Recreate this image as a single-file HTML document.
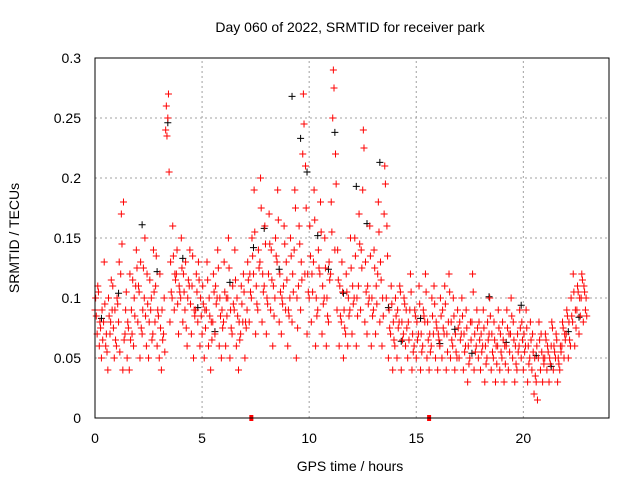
<!DOCTYPE html>
<html><head><meta charset="utf-8"><style>
body{margin:0;background:#fff}
svg{display:block;font-family:"Liberation Sans",sans-serif}
</style></head><body>
<svg id="chart" width="640" height="480" viewBox="0 0 640 480">
<text x="350" y="32" font-size="14" text-anchor="middle">Day 060 of 2022, SRMTID for receiver park</text>
<text transform="translate(19,238) rotate(-90)" font-size="14" text-anchor="middle">SRMTID / TECUs</text>
<text x="350" y="471" font-size="14" text-anchor="middle">GPS time / hours</text>
<g id="grid"></g><g id="ticks"></g><g id="black"></g><g id="red"></g>
<rect x="95" y="58" width="514" height="360" fill="none" stroke="#000" stroke-width="1"/>
</svg>
<script>
const xTicks=[0,5,10,15,20];
const yTicks=[0,0.05,0.1,0.15,0.2,0.25,0.3];
const yTickLabels=["0","0.05","0.1","0.15","0.2","0.25","0.3"];
const redA=[.09,.07,.06,.05,.08,.06,.04,.07,.09,.05,.06,.08,.12,.04,.07,.05,.04,.09,.06,.11,.08,.05,.07,.10,.06,.05,.09,.07,.08,.06,.05,.04,.07,.24,.25,.08,.10,.09,.12,.07,.10,.08,.09,.06,.11,.07,.05,.09,.08,.06,.07,.05,.09,.06,.04,.08,.07,.10,.06,.05,.08,.06,.10,.05,.07,.09,.06,.04,.07,.08,.05,.09,.08,.10,.12,.07,.09,.13,.08,.11,.07,.12,.09,.06,.10,.13,.08,.07,.11,.09,.06,.10,.08,.14,.05,.11,.09,.22,.12,.07,.10,.08,.13,.06,.09,.12,.07,.10,.06,.08,.12,.25,.14,.09,.06,.08,.05,.07,.06,.09,.07,.10,.06,.11,.09,.19,.08,.07,.10,.06,.09,.07,.12,.08,.06,.17,.10,.05,.07,.04,.06,.05,.08,.04,.07,.06,.05,.09,.04,.06,.05,.07,.04,.06,.08,.05,.04,.06,.07,.05,.04,.06,.05,.07,.04,.08,.05,.06,.04,.05,.05,.07,.04,.06,.03,.05,.08,.04,.06,.05,.04,.06,.03,.05,.07,.04,.05,.03,.06,.04,.05,.03,.06,.04,.07,.05,.03,.04,.06,.05,.04,.06,.03,.05,.04,.02,.03,.05,.04,.03,.05,.04,.03,.06,.04,.05,.03,.04,.06,.05,.07,.05,.06,.08,.06,.09,.07,.10,.08,.09];
const redB=[.10,.11,.08,.09,.13,.07,.10,.08,.11,.09,.10,.13,.17,.18,.09,.08,.12,.07,.10,.14,.11,.13,.09,.15,.12,.08,.10,.14,.11,.09,.12,.09,.10,.26,.27,.13,.16,.12,.14,.11,.15,.12,.13,.10,.14,.11,.09,.12,.13,.10,.11,.09,.13,.10,.08,.12,.11,.14,.10,.09,.13,.10,.15,.09,.11,.14,.10,.08,.11,.12,.08,.13,.12,.15,.19,.11,.14,.20,.12,.16,.10,.17,.14,.11,.15,.19,.12,.10,.16,.13,.09,.15,.12,.19,.10,.16,.13,.27,.21,.12,.16,.12,.19,.10,.14,.18,.11,.15,.10,.13,.18,.29,.22,.14,.11,.13,.09,.12,.10,.15,.11,.15,.10,.17,.14,.24,.13,.11,.16,.10,.14,.11,.18,.13,.10,.21,.16,.09,.11,.08,.10,.09,.11,.08,.10,.09,.08,.12,.07,.09,.08,.11,.07,.09,.12,.08,.07,.10,.11,.08,.07,.10,.09,.11,.07,.12,.08,.10,.07,.09,.08,.10,.07,.09,.06,.08,.12,.07,.09,.08,.07,.09,.06,.08,.10,.07,.08,.06,.09,.07,.08,.06,.09,.07,.10,.08,.06,.07,.09,.08,.07,.09,.06,.08,.07,.05,.06,.08,.07,.05,.07,.06,.05,.08,.06,.07,.05,.06,.08,.07,.09,.08,.10,.12,.09,.11,.10,.12,.11,.10];
const redC=[.085,.105,.075,.065,.095,.055,.085,.115,.075,.065,.095,.055,.145,.065,.105,.075,.065,.115,.085,.125,.105,.075,.125,.085,.095,.115,.065,.105,.135,.085,.075,.065,.055,.235,.205,.105,.135,.115,.095,.105,.125,.105,.075,.115,.095,.135,.085,.105,.115,.085,.095,.075,.115,.085,.065,.105,.095,.125,.085,.075,.105,.085,.125,.075,.095,.115,.085,.065,.095,.105,.075,.115,.105,.135,.155,.095,.125,.175,.105,.145,.095,.145,.115,.085,.135,.165,.105,.095,.145,.115,.085,.135,.105,.175,.075,.145,.115,.245,.175,.105,.135,.105,.165,.085,.125,.155,.095,.125,.085,.115,.155,.275,.195,.115,.085,.105,.075,.105,.085,.125,.095,.135,.085,.145,.125,.225,.105,.095,.135,.085,.125,.095,.155,.115,.085,.195,.135,.075,.095,.065,.085,.075,.105,.065,.095,.075,.065,.105,.055,.085,.065,.095,.055,.085,.105,.065,.055,.085,.095,.075,.065,.085,.075,.095,.055,.105,.065,.085,.055,.075,.065,.085,.055,.075,.045,.065,.105,.055,.075,.065,.055,.075,.045,.065,.085,.055,.065,.045,.075,.055,.065,.045,.075,.055,.085,.065,.045,.055,.075,.065,.055,.075,.045,.065,.055,.035,.015,.065,.055,.045,.065,.055,.045,.075,.055,.065,.045,.055,.075,.065,.085,.065,.085,.105,.075,.105,.085,.115,.105,.085];
const blackT=[0.3,1.1,2.2,2.9,3.4,4.1,4.8,5.6,6.3,7.4,7.9,8.6,9.2,9.6,9.9,10.4,10.9,11.2,11.6,12.2,12.7,13.3,13.7,14.3,15.2,16.1,16.8,17.6,18.4,19.2,19.9,20.6,21.3,22.1,22.6];
const blackV=[.083,.104,.161,.122,.246,.133,.092,.072,.113,.142,.158,.124,.268,.233,.205,.152,.124,.238,.104,.193,.162,.213,.092,.064,.083,.062,.074,.054,.101,.063,.094,.052,.043,.072,.084];
const flagT=[7.3,15.6];
const X0=95,X1=609,XMAX=24,Y0=418,Y1=58,YMAX=0.3;
const xs=h=>X0+(X1-X0)*h/XMAX, ys=v=>Y0-(Y0-Y1)*v/YMAX;
const NS="http://www.w3.org/2000/svg";
function mk(tag,attrs,parent){const e=document.createElementNS(NS,tag);for(const k in attrs)e.setAttribute(k,attrs[k]);parent.appendChild(e);return e;}
const grid=document.getElementById('grid'),ticks=document.getElementById('ticks');
xTicks.forEach(t=>{
 const x=xs(t);
 if(t>0){const g=mk('line',{x1:x,x2:x,y1:Y0,y2:Y1,stroke:'#a0a0a0','stroke-dasharray':'2,3'},grid);
 
 }
 const l=mk('text',{x:x,y:Y0+25,'font-size':14,'text-anchor':'middle'},ticks);l.textContent=t;
 
 
});
yTicks.forEach((t,i)=>{
 const y=ys(t);
 if(t>0){const g=mk('line',{x1:X0,x2:X1,y1:y,y2:y,stroke:'#a0a0a0','stroke-dasharray':'2,3'},grid);
 
 }
 const l=mk('text',{x:X0-14,y:y+5,'font-size':14,'text-anchor':'end'},ticks);l.textContent=yTickLabels[i];
 
 
});
function plus(x,y,col,g,name){const p=mk('path',{d:`M${x-3.5} ${y}h7M${x} ${y-3.5}v7`,stroke:col,'stroke-width':1,fill:'none'},g);
 
 }
const bg=document.getElementById('black'),rg=document.getElementById('red');
blackT.forEach((t,i)=>plus(xs(t),ys(blackV[i]),'#000',bg,'black-point'));
[[redA,0],[redB,0.03],[redC,0.06]].forEach(([arr,off])=>arr.forEach((v,i)=>plus(xs(i*0.1+off),ys(v),'#f00',rg,'red-point')));
flagT.forEach(t=>{const r=mk('rect',{x:xs(t)-2,y:Y0-3,width:4,height:6,fill:'#f00'},rg);
 
 });
</script>
</body></html>
